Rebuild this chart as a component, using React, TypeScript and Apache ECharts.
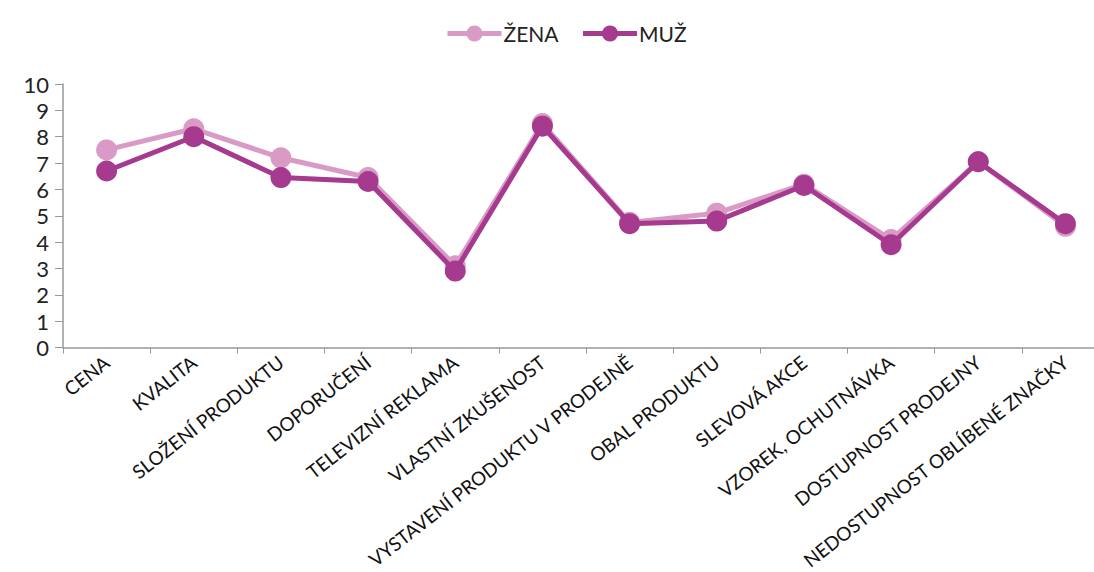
import React, { useEffect, useRef } from "react";
import * as echarts from "echarts";

const categories = [
  "CENA",
  "KVALITA",
  "SLOŽENÍ PRODUKTU",
  "DOPORUČENÍ",
  "TELEVIZNÍ REKLAMA",
  "VLASTNÍ ZKUŠENOST",
  "VYSTAVENÍ PRODUKTU V PRODEJNĚ",
  "OBAL PRODUKTU",
  "SLEVOVÁ AKCE",
  "VZOREK, OCHUTNÁVKA",
  "DOSTUPNOST PRODEJNY",
  "NEDOSTUPNOST OBLÍBENÉ ZNAČKY",
];
const zena = [7.5, 8.3, 7.2, 6.45, 3.1, 8.5, 4.75, 5.1, 6.2, 4.1, 7.05, 4.6];
const muz = [6.7, 8.0, 6.45, 6.3, 2.9, 8.4, 4.7, 4.8, 6.15, 3.9, 7.05, 4.7];
const yTicks = [0, 10, 1];

const ZENA_COLOR = "#D99AC5";
const MUZ_COLOR = "#A63A8E";
const FONT = "Lato, 'Open Sans', sans-serif";

export default function App() {
  const ref = useRef<HTMLDivElement>(null);
  useEffect(() => {
    if (!ref.current) return;
    const chart = echarts.init(ref.current, undefined, { renderer: "svg" });
    chart.setOption({
      animation: false,
      textStyle: { fontFamily: FONT },
      legend: {
        top: 18,
        left: 440,
        itemWidth: 54,
        itemHeight: 20,
        itemGap: 22,
        lineStyle: { width: 5 },
        textStyle: { fontSize: 21, color: "#222", fontFamily: FONT, padding: [0, 0, 0, -3] },
        data: ["ŽENA", "MUŽ"],
      },
      grid: { left: 63, width: 1046, top: 84, bottom: 224, containLabel: false },
      xAxis: {
        type: "category",
        data: categories,
        boundaryGap: true,
        axisLine: { lineStyle: { color: "#999", width: 1.5 } },
        axisTick: { show: true, length: 6, lineStyle: { color: "#999" } },
        axisLabel: {
          rotate: 38,
          interval: 0,
          fontSize: 19,
          color: "#111",
          fontFamily: FONT,
          margin: 12,
        },
      },
      yAxis: {
        type: "value",
        min: yTicks[0],
        max: yTicks[1],
        interval: yTicks[2],
        splitLine: { show: false },
        axisLine: { show: true, lineStyle: { color: "#999", width: 1.5 } },
        axisTick: { show: true, length: 8, lineStyle: { color: "#999" } },
        axisLabel: { fontSize: 22, color: "#222", fontFamily: FONT, margin: 14 },
      },
      series: [
        {
          name: "ŽENA",
          type: "line",
          data: zena,
          symbol: "circle",
          symbolSize: 21,
          lineStyle: { color: ZENA_COLOR, width: 5 },
          itemStyle: { color: ZENA_COLOR },
          z: 2,
        },
        {
          name: "MUŽ",
          type: "line",
          data: muz,
          symbol: "circle",
          symbolSize: 21,
          lineStyle: { color: MUZ_COLOR, width: 5 },
          itemStyle: { color: MUZ_COLOR },
          z: 3,
        },
      ],
    });
    return () => chart.dispose();
  }, []);
  return (
    <div style={{ position: "absolute", left: 0, top: 0, width: 1094, height: 572, overflow: "hidden", background: "#fff" }}>
      <div ref={ref} style={{ width: 1109, height: 572 }} />
    </div>
  );
}
